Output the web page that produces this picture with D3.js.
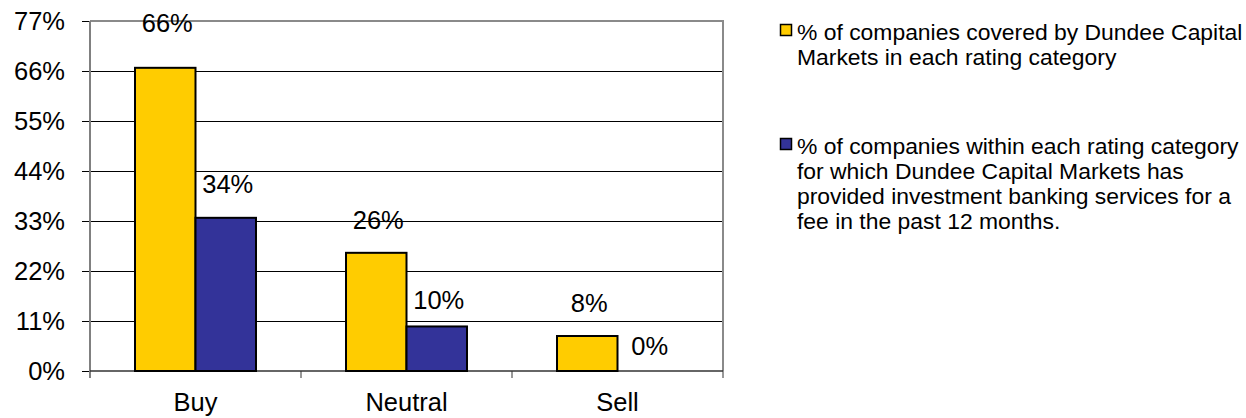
<!DOCTYPE html>
<html><head><meta charset="utf-8">
<script src="https://cdn.jsdelivr.net/npm/d3@7"></script>
<style>
html,body{margin:0;padding:0;background:#fff;}
svg{display:block;font-family:"Liberation Sans",Arial,sans-serif;}
</style></head>
<body>
<svg id="c" width="1246" height="418"></svg>
<script>
const categories = ["Buy", "Neutral", "Sell"];
const seriesNames = [
  "% of companies covered by Dundee Capital Markets in each rating category",
  "% of companies within each rating category for which Dundee Capital Markets has provided investment banking services for a fee in the past 12 months."
];
const coveredValues = [66.7, 26.0, 7.7];
const bankingValues = [33.7, 9.8, 0];
const coveredLabels = ["66%", "26%", "8%"];
const bankingLabels = ["34%", "10%", "0%"];
const yTicks = [0, 11, 22, 33, 44, 55, 66, 77];
const legendLines = [
  ["% of companies covered by Dundee Capital", "Markets in each rating category"],
  ["% of companies within each rating category", "for which Dundee Capital Markets has", "provided investment banking services for a", "fee in the past 12 months."]
];

// style
const colors = ["#FFCC00", "#333399"];
const coveredDy = [-36, -24, -24];
const bankingDy = [-25, -17, -16];

const svg = d3.select("#c");
const L = 90, R = 723, T = 21, B = 371;
const x = d3.scaleBand().domain(categories).range([L, R]).padding(0);
const xi = d3.scaleBand().domain([0, 1]).range([0, x.bandwidth()]).paddingInner(0).paddingOuter(0.744);
const y = d3.scaleLinear().domain([0, 77]).range([B, T]);

// gridlines
svg.append("g").selectAll("line").data(yTicks.filter(d => d > 0 && d < 77)).join("line")
  .attr("x1", L).attr("x2", R).attr("y1", d => y(d)).attr("y2", d => y(d))
  .attr("stroke", "#000").attr("stroke-width", 1).attr("shape-rendering", "crispEdges");
// top & right border
svg.append("path").attr("d", `M${L},${y(77)}H${R}V${B}`).attr("fill", "none")
  .attr("stroke", "#8a8a8a").attr("stroke-width", 2);

// y axis
const ya = svg.append("g").attr("transform", `translate(${L},0)`)
  .call(d3.axisLeft(y).tickValues(yTicks).tickFormat(d => d + "%").tickSize(8).tickPadding(17));
ya.select(".domain").remove();
ya.selectAll(".tick line").attr("stroke", "#000").attr("shape-rendering", "crispEdges");
ya.selectAll("text").attr("font-size", 25.5).attr("fill", "#000").attr("font-family", "Liberation Sans, Arial, sans-serif");
svg.append("line").attr("x1", L).attr("x2", L).attr("y1", T).attr("y2", B + 7)
  .attr("stroke", "#808080").attr("stroke-width", 2);

// x axis
svg.append("line").attr("x1", L).attr("x2", R).attr("y1", B).attr("y2", B)
  .attr("stroke", "#333").attr("stroke-width", 1.5);
svg.append("g").selectAll("line").data(categories.slice(1).map(c => x(c)).concat([R])).join("line")
  .attr("x1", d => d).attr("x2", d => d).attr("y1", B).attr("y2", B + 7)
  .attr("stroke", "#333").attr("stroke-width", 1);
svg.append("g").selectAll("text").data(categories).join("text")
  .attr("x", d => x(d) + x.bandwidth() / 2).attr("y", 411)
  .attr("text-anchor", "middle").attr("font-size", 25.5).text(d => d);

// bars
const seriesVals = [coveredValues, bankingValues];
const seriesLabs = [coveredLabels, bankingLabels];
const seriesDy = [coveredDy, bankingDy];
seriesVals.forEach((vals, s) => {
  const g = svg.append("g");
  g.selectAll("rect").data(categories.map((c, i) => ({c, v: vals[i]})).filter(d => d.v > 0)).join("rect")
    .attr("x", d => x(d.c) + xi(s)).attr("width", xi.bandwidth())
    .attr("y", d => y(d.v)).attr("height", d => y(0) - y(d.v))
    .attr("fill", colors[s]).attr("stroke", "#000").attr("stroke-width", 2);
  g.selectAll("text").data(categories.map((c, i) => ({c, v: vals[i], l: seriesLabs[s][i], dy: seriesDy[s][i]}))).join("text")
    .attr("x", d => x(d.c) + xi(s) + xi.bandwidth() / 2 + 2)
    .attr("y", d => y(d.v) + d.dy)
    .attr("text-anchor", "middle").attr("font-size", 25.5).text(d => d.l);
});

// legend
const legY = [24, 138];
legendLines.forEach((lines, s) => {
  const g = svg.append("g");
  g.append("rect").attr("x", 780.5).attr("y", legY[s] + 0.5).attr("width", 11).attr("height", 11)
    .attr("fill", colors[s]).attr("stroke", "#000").attr("stroke-width", 1.5);
  const t = g.append("text").attr("font-size", 22.9).attr("fill", "#000");
  lines.forEach((ln, i) => {
    t.append("tspan").attr("x", 797).attr("y", legY[s] + 15.5 + i * 25.3).text(ln);
  });
});
</script>
</body></html>
